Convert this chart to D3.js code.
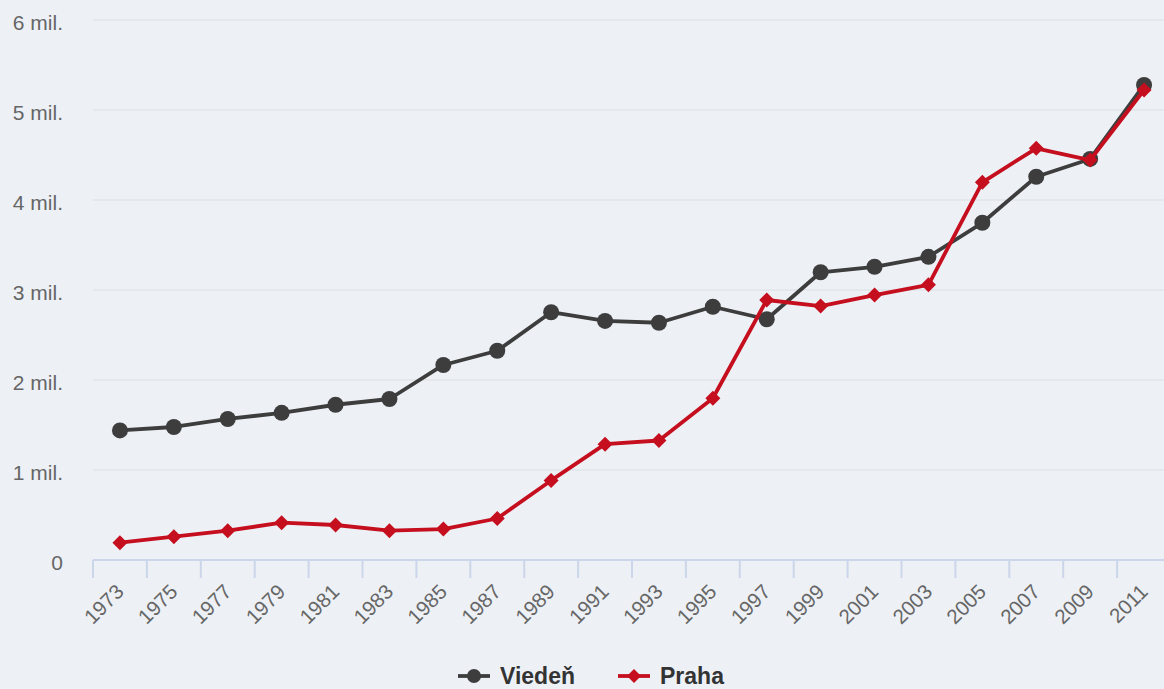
<!DOCTYPE html>
<html>
<head>
<meta charset="utf-8">
<script src="https://cdn.jsdelivr.net/npm/d3@7"></script>
<style>
  html, body { margin: 0; padding: 0; background: #edf1f6; }
  svg { display: block; font-family: "Liberation Sans", Arial, Helvetica, sans-serif; }
</style>
</head>
<body>
<div id="chart"></div>
<script>
const years = ["1973", "1975", "1977", "1979", "1981", "1983", "1985", "1987", "1989", "1991",
               "1993", "1995", "1997", "1999", "2001", "2003", "2005", "2007", "2009", "2011"];

const vieden = [1440000, 1478000, 1567000, 1635000, 1725000, 1789000, 2167000, 2325000, 2753000, 2656000,
                2636000, 2814000, 2675000, 3197000, 3258000, 3369000, 3747000, 4258000, 4456000, 5278000];

const praha = [193000, 259000, 326000, 415000, 389000, 326000, 344000, 461000, 884000, 1287000,
               1328000, 1797000, 2889000, 2822000, 2944000, 3058000, 4196000, 4574000, 4444000, 5222000];

const yTicks = [0, 1000000, 2000000, 3000000, 4000000, 5000000, 6000000];

const seriesNames = ["Viedeň", "Praha"];
const seriesColors = ["#3d3d3d", "#c50f1f"];

const W = 1164, H = 689;
const svg = d3.select("#chart").append("svg")
    .attr("width", W)
    .attr("height", H);

svg.append("rect").attr("width", W).attr("height", H).attr("fill", "#edf1f6");

const margin = { left: 93, right: -7, top: 20, bottom: 129 };

const x = d3.scaleBand()
    .domain(years)
    .range([margin.left, W - margin.right])
    .padding(0);

const y = d3.scaleLinear()
    .domain([0, 6000000])
    .range([H - margin.bottom, margin.top]);

const fmt = v => v === 0 ? "0" : (v / 1000000) + " mil.";

// gridlines
svg.append("g")
    .selectAll("line")
    .data(yTicks.filter(d => d > 0))
    .enter().append("line")
    .attr("x1", margin.left)
    .attr("x2", W)
    .attr("y1", d => y(d))
    .attr("y2", d => y(d))
    .attr("stroke", "#e1e5e9")
    .attr("stroke-width", 1.5);

// y labels
svg.append("g")
    .selectAll("text")
    .data(yTicks)
    .enter().append("text")
    .attr("x", 63)
    .attr("y", d => y(d) + 10)
    .attr("text-anchor", "end")
    .attr("font-size", 21)
    .attr("fill", "#666666")
    .text(fmt);

// x axis line + ticks
const axisY = y(0);
svg.append("line")
    .attr("x1", margin.left)
    .attr("x2", W)
    .attr("y1", axisY)
    .attr("y2", axisY)
    .attr("stroke", "#ccd6eb")
    .attr("stroke-width", 2);

svg.append("g")
    .selectAll("line")
    .data(years)
    .enter().append("line")
    .attr("x1", d => x(d))
    .attr("x2", d => x(d))
    .attr("y1", axisY)
    .attr("y2", axisY + 18)
    .attr("stroke", "#ccd6eb")
    .attr("stroke-width", 2);

svg.append("g")
    .selectAll("text")
    .data(years)
    .enter().append("text")
    .attr("transform", d => `translate(${x(d) + x.bandwidth() / 2 + 5},${axisY + 33}) rotate(-45)`)
    .attr("text-anchor", "end")
    .attr("font-size", 20.5)
    .attr("fill", "#666666")
    .text(d => d);

// series
const cx = (d, i) => x(years[i]) + x.bandwidth() / 2;
const line = d3.line().x(cx).y(d => y(d));

const allSeries = [vieden, praha];
const diamond = s => `M0,${-s}L${s},0L0,${s}L${-s},0Z`;

allSeries.forEach((data, k) => {
    const g = svg.append("g");
    g.append("path")
        .datum(data)
        .attr("d", line)
        .attr("fill", "none")
        .attr("stroke", seriesColors[k])
        .attr("stroke-width", 3.8)
        .attr("stroke-linejoin", "round");

    if (k === 0) {
        g.selectAll("circle")
            .data(data)
            .enter().append("circle")
            .attr("cx", cx)
            .attr("cy", d => y(d))
            .attr("r", 8)
            .attr("fill", seriesColors[k]);
    } else {
        g.selectAll("path.m")
            .data(data)
            .enter().append("path")
            .attr("class", "m")
            .attr("transform", (d, i) => `translate(${cx(d, i)},${y(d)})`)
            .attr("d", diamond(7.5))
            .attr("fill", seriesColors[k]);
    }
});

// legend
const legendY = 676;
const legendX = [458, 618];
seriesNames.forEach((name, k) => {
    const lg = svg.append("g").attr("transform", `translate(${legendX[k]},${legendY})`);
    lg.append("line")
        .attr("x1", 0).attr("x2", 32)
        .attr("stroke", seriesColors[k])
        .attr("stroke-width", 3.8);
    if (k === 0) {
        lg.append("circle").attr("cx", 16).attr("r", 7).attr("fill", seriesColors[k]);
    } else {
        lg.append("path").attr("transform", "translate(16,0)").attr("d", diamond(7)).attr("fill", seriesColors[k]);
    }
    lg.append("text")
        .attr("x", 42)
        .attr("y", 8)
        .attr("font-size", 23)
        .attr("font-weight", "bold")
        .attr("fill", "#333333")
        .text(name);
});
</script>
</body>
</html>
